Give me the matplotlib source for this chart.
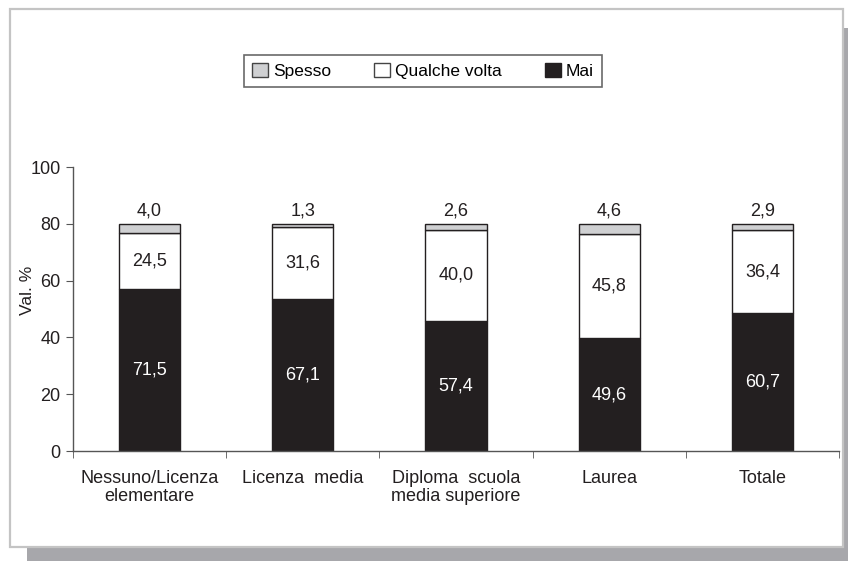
import matplotlib
matplotlib.use("Agg")
import matplotlib.pyplot as plt
from matplotlib.patches import Rectangle, Patch
import numpy as np

plt.rcParams['font.family'] = ['Liberation Sans', 'DejaVu Sans']

categories = ["Nessuno/Licenza\nelementare", "Licenza  media", "Diploma  scuola\nmedia superiore",
              "Laurea", "Totale"]
mai = [71.5, 67.1, 57.4, 49.6, 60.7]
qualche_volta = [24.5, 31.6, 40.0, 45.8, 36.4]
spesso = [4.0, 1.3, 2.6, 4.6, 2.9]
y_ticks = [0, 20, 40, 60, 80, 100]

# the original chart draws 100% at the height of 80 on the axis
scale = 0.8


def fmt(v):
    return f"{v:.1f}".replace(".", ",")


fig = plt.figure(figsize=(8.48, 5.61), dpi=100)

# frame with drop shadow
W, H = 848, 561
fig.patches.append(Rectangle((27 / W, 0), 1.0, (H - 28) / H, transform=fig.transFigure,
                             facecolor="#a7a7ab", edgecolor="none", zorder=0))
fig.patches.append(Rectangle((10 / W, (H - 547) / H), 833 / W, 538 / H, transform=fig.transFigure,
                             facecolor="white", edgecolor="#c4c4c4", linewidth=1.6, zorder=1))

ax = fig.add_axes([73 / W, (H - 451) / H, (839 - 73) / W, (451 - 167) / H])
ax.set_zorder(2)
ax.patch.set_alpha(0)

x = np.arange(len(categories))
m = np.array(mai) * scale
q = np.array(qualche_volta) * scale
s = np.array(spesso) * scale
w = 0.4
ax.bar(x, m, w, color="#231f20", edgecolor="#231f20", linewidth=1)
ax.bar(x, q, w, bottom=m, color="white", edgecolor="#231f20", linewidth=1)
ax.bar(x, s, w, bottom=m + q, color="#cfd0d2", edgecolor="#231f20", linewidth=1)

fs = 13
for i in range(len(categories)):
    ax.text(x[i], m[i] / 2, fmt(mai[i]), ha="center", va="center", color="white", fontsize=fs)
    ax.text(x[i], m[i] + q[i] / 2, fmt(qualche_volta[i]), ha="center", va="center",
            color="#231f20", fontsize=fs)
    ax.text(x[i], m[i] + q[i] + s[i] + 1.5, fmt(spesso[i]), ha="center", va="bottom",
            color="#231f20", fontsize=fs)

ax.set_xlim(-0.5, len(categories) - 0.5)
ax.set_ylim(0, 100)
ax.set_yticks(y_ticks)
ax.set_yticklabels([str(t) for t in y_ticks], fontsize=fs, color="#231f20")
ax.set_xticks(x)
ax.set_xticklabels(categories, fontsize=fs, color="#231f20", linespacing=1.05)
ax.set_xticks(np.arange(len(categories) + 1) - 0.5, minor=True)
ax.tick_params(axis="x", which="major", length=0, pad=14)
ax.tick_params(axis="x", which="minor", length=5, color="#555555", direction="out")
ax.tick_params(axis="y", length=5, color="#555555", pad=4)
for side in ["top", "right"]:
    ax.spines[side].set_visible(False)
for side in ["left", "bottom"]:
    ax.spines[side].set_color("#555555")
    ax.spines[side].set_linewidth(1)
ax.set_ylabel("Val. %", fontsize=12.5, color="#231f20")
ax.yaxis.set_label_coords(-0.05, 0.567)

handles = [Patch(facecolor="#cfd0d2", edgecolor="#444444", label="Spesso"),
           Patch(facecolor="white", edgecolor="#444444", label="Qualche volta"),
           Patch(facecolor="#231f20", edgecolor="#231f20", label="Mai")]
leg = fig.legend(handles=handles, loc="center", bbox_to_anchor=(423 / W, 1 - 71 / H), ncol=3,
                 fontsize=12.5, frameon=True, fancybox=False, edgecolor="#444444",
                 handlelength=0.9, handleheight=0.9, handletextpad=0.3, columnspacing=2.5,
                 borderpad=0.45)
leg.get_frame().set_linewidth(1.2)
leg.set_zorder(3)

fig.savefig("out.png", dpi=100)
